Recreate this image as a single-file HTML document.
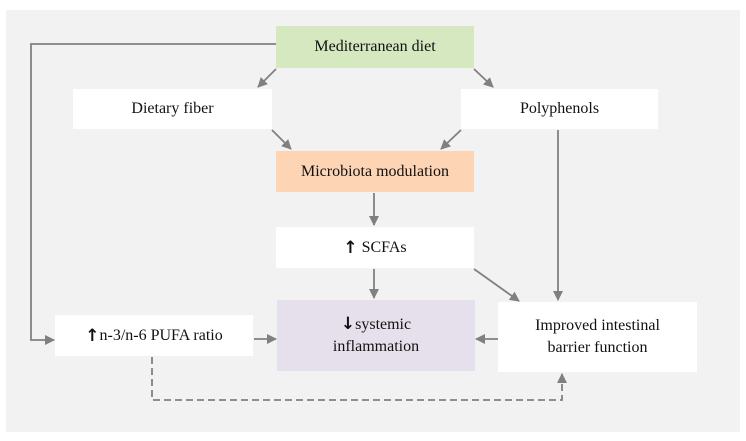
<!DOCTYPE html>
<html><head><style>
body{margin:0;width:746px;height:441px;background:#fff;position:relative;font-family:"Liberation Serif",serif;}
.bg{position:absolute;left:6px;top:10px;width:734px;height:422px;background:#f2f2f2;}
.b{position:absolute;display:flex;align-items:center;justify-content:center;text-align:center;font-size:16px;color:#111;line-height:22px;background:#fff;}
.ar{font-family:"DejaVu Sans",sans-serif;font-size:17px;font-weight:bold;}
svg{position:absolute;left:0;top:0;}
</style></head><body>
<div class="bg"></div>
<div class="b" style="left:276px;top:26px;width:198px;height:42px;background:#d5e8c0">Mediterranean diet</div>
<div class="b" style="left:73px;top:89px;width:199px;height:40px">Dietary fiber</div>
<div class="b" style="left:461px;top:89px;width:197px;height:40px">Polyphenols</div>
<div class="b" style="left:276px;top:151px;width:198px;height:41px;background:#fdd5b4">Microbiota modulation</div>
<div class="b" style="left:276px;top:227px;width:198px;height:41px"><span class="ar">↑</span>&nbsp;SCFAs</div>
<div class="b" style="left:277px;top:300px;width:198px;height:71px;background:#e6e0ec"><div><span class="ar">↓</span>systemic<br>inflammation</div></div>
<div class="b" style="left:55px;top:315px;width:198px;height:41px"><span class="ar">↑</span>n-3/n-6 PUFA ratio</div>
<div class="b" style="left:498px;top:302px;width:199px;height:70px">Improved intestinal<br>barrier function</div>
<svg width="746" height="441">
<defs><marker id="a" markerWidth="10" markerHeight="10" refX="9" refY="5" orient="auto" markerUnits="userSpaceOnUse"><path d="M0,0L10,5L0,10z" fill="#808080"/></marker></defs>
<g stroke="#808080" stroke-width="1.8" fill="none">
<polyline points="276,44 31,44 31,340 54,340" marker-end="url(#a)"/>
<line x1="276" y1="69" x2="258" y2="87" marker-end="url(#a)"/>
<line x1="474" y1="69" x2="493" y2="87" marker-end="url(#a)"/>
<line x1="272" y1="130" x2="291" y2="149" marker-end="url(#a)"/>
<line x1="461" y1="130" x2="441" y2="149" marker-end="url(#a)"/>
<line x1="558" y1="130" x2="558" y2="300" marker-end="url(#a)"/>
<line x1="374" y1="193" x2="374" y2="225" marker-end="url(#a)"/>
<line x1="374" y1="269" x2="374" y2="298" marker-end="url(#a)"/>
<line x1="474" y1="269" x2="519" y2="301" marker-end="url(#a)"/>
<line x1="254" y1="339" x2="276" y2="339" marker-end="url(#a)"/>
<line x1="498" y1="339" x2="476" y2="339" marker-end="url(#a)"/>
<polyline points="152,357 152,400 562,400 562,374" stroke-dasharray="7,4" marker-end="url(#a)"/>
</g></svg>
</body></html>
